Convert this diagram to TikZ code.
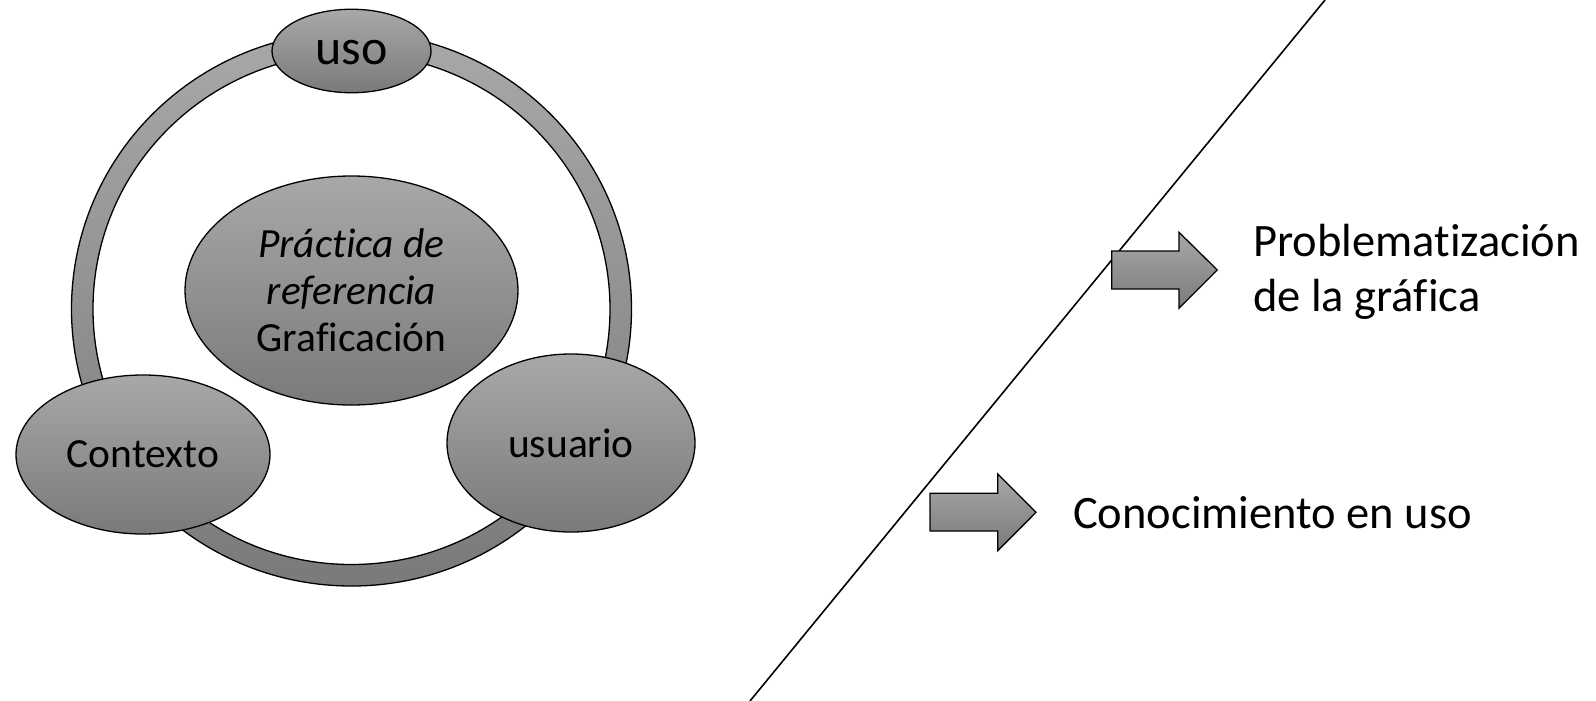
\documentclass[tikz,border=0pt]{standalone}
\usepackage{fontspec}
\setmainfont{Carlito}[Ligatures=NoCommon]
\usetikzlibrary{shapes.geometric}
\definecolor{gtop}{HTML}{A8A8A8}
\definecolor{gbot}{HTML}{7A7A7A}
\tikzset{
  outl/.style={draw=black, line width=1.3bp},
  shadefill/.style={top color=gtop, bottom color=gbot},
  blob/.style={ellipse, outl, shadefill, inner sep=0pt, align=center},
  blocka/.style={outl, shadefill, line join=miter},
  bodytext/.style={font=\fontsize{41.5bp}{47bp}\selectfont},
  sidetext/.style={font=\fontsize{46.5bp}{55bp}\selectfont, inner sep=0pt, align=left},
}
\begin{document}
\begin{tikzpicture}[x=1bp, y=-1bp]
\useasboundingbox (0,0) rectangle (1596,701);
% ring
\coordinate (c) at (351.5,309);
\path[outl, shadefill, even odd rule]
  (c) ellipse [x radius=280bp, y radius=277bp]
  (c) ellipse [x radius=258.5bp, y radius=255.5bp];
% ellipses
\node[blob, bodytext, minimum width=333bp, minimum height=229bp] (prac) at (351.5,290.5)
  {\textit{Práctica de}\\\textit{referencia}\\Graficación};
\node[blob, font=\fontsize{50bp}{56bp}\selectfont, text height=27bp, text depth=0pt,
  minimum width=159bp, minimum height=83.5bp] (uso) at (351.5,51) {uso};
\node[blob, bodytext, minimum width=254bp, minimum height=159bp] (ctx) at (143,454.5) {Contexto};
\node[blob, bodytext, minimum width=248bp, minimum height=178bp] (usu) at (571,443) {usuario};
% diagonal line
\coordinate (lt) at (1325,0);
\coordinate (lb) at (750,701);
\draw[line width=1.6bp] (lt) -- (lb);
% block arrows
\path[blocka] (1111.7,251) -- (1179,251) -- (1179,232.3) -- (1217.3,270)
  -- (1179,308.3) -- (1179,289) -- (1111.7,289) -- cycle;
\path[blocka] (930,493.3) -- (997.7,493.3) -- (997.7,474) -- (1036,512.3)
  -- (997.7,550.7) -- (997.7,531) -- (930,531) -- cycle;
% side texts
\node[sidetext, anchor=base west] (prob) at (1253,311.7) {Problematización\\de la gráfica};
\node[sidetext, anchor=base west] (cono) at (1073,528) {Conocimiento en uso};
\end{tikzpicture}
\end{document}
